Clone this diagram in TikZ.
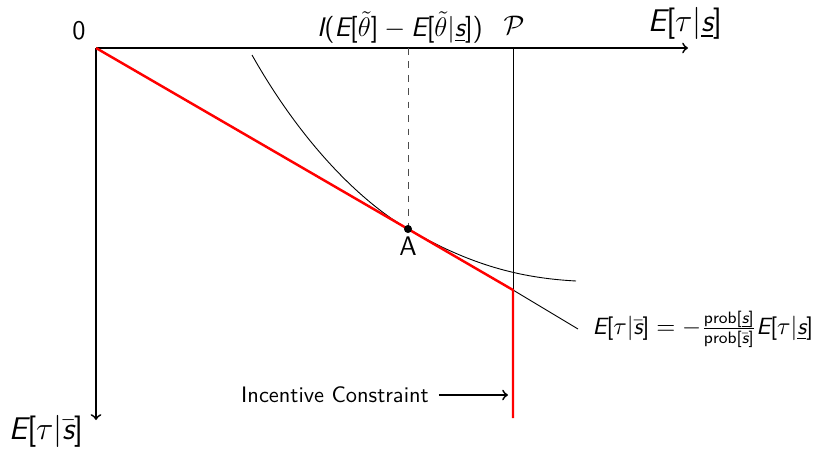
\documentclass[tikz,border=0pt]{standalone}
\usepackage{amsmath}
\usetikzlibrary{positioning}

% schreefloze wiskunde
\DeclareSymbolFont{sfit}{TU}{lmss}{m}{sl}
\DeclareSymbolFont{sfup}{TU}{lmss}{m}{n}
\DeclareMathSymbol{E}{\mathalpha}{sfit}{`E}
\DeclareMathSymbol{I}{\mathalpha}{sfit}{`I}
\DeclareMathSymbol{s}{\mathalpha}{sfit}{`s}
\DeclareMathSymbol{[}{\mathopen}{sfup}{`[}
\DeclareMathSymbol{]}{\mathclose}{sfup}{`]}
\DeclareMathSymbol{(}{\mathopen}{sfup}{`(}
\DeclareMathSymbol{)}{\mathclose}{sfup}{`)}
\DeclareMathAlphabet{\mathsfup}{TU}{lmss}{m}{n}

\begin{document}
\begin{tikzpicture}[x=0.0157cm, y=-0.0157cm, font=\sffamily,
    biglabel/.style={font=\fontsize{14}{16}\selectfont\sffamily}]
    \useasboundingbox (0,0) rectangle (817,458);

    % Punten
    \coordinate (O) at (96,48);
    \coordinate (xend) at (688,48);
    \coordinate (yend) at (96,420);
    \coordinate (A) at (408,229);
    \coordinate (Atop) at (408,48);
    \coordinate (Ptop) at (513,48);
    \coordinate (K) at (513,290);
    \coordinate (Kbot) at (513,418);
    \coordinate (Tend) at (578,329);

    % Assen tekenen
    \draw[->, thick] (O) -- (xend);
    \draw[->, thick] (O) -- (yend);
    \node[biglabel] (xlab) at (685,23) {$E[\tau|\underline{s}]$};
    \node[biglabel] (ylab) at (46,431) {$E[\tau|\bar{s}]$};
    \node[font=\large\sffamily] (zero) at (79,31) {0};

    % Participatie en stippellijn
    \draw[thin] (Ptop) -- (Kbot);
    \draw[dashed, black!70] (Atop) -- (A);
    \node[font=\large\sffamily] (Ilab) at (400,27) {$I(E[\tilde{\theta}]-E[\tilde{\theta}|\underline{s}])$};
    \node[font=\large\sffamily] (Plab) at (514,25) {$\mathcal{P}$};

    % Indifferentiecurve
    \draw[thin] (252,55) .. controls (300,140) and (358,200) .. (A)
        .. controls (470,265) and (520,278) .. (576,281);

    % Raaklijn
    \draw[thin] (K) -- (Tend);
    \node[anchor=west, font=\fontsize{10.5}{12}\selectfont\sffamily] (Tlab) at ([xshift=3pt]Tend) {$E[\tau|\bar{s}] = -\frac{\mathsfup{prob}[\underline{s}]}{\mathsfup{prob}[\bar{s}]}E[\tau|\underline{s}]$};

    % Rode lijn
    \draw[red, line width=1.1pt] (O) -- (A) -- (K) -- (Kbot);

    % Punt A
    \fill (A) circle (1.8pt);
    \node[font=\large\sffamily, below=0pt of A] (Alab) {A};

    % Incentive constraint
    \node (IC) at (335,395) {Incentive Constraint};
    \coordinate (ICend) at (508,395);
    \draw[->, thick] (IC.east) ++(1pt,0) -- (ICend);
\end{tikzpicture}
\end{document}
